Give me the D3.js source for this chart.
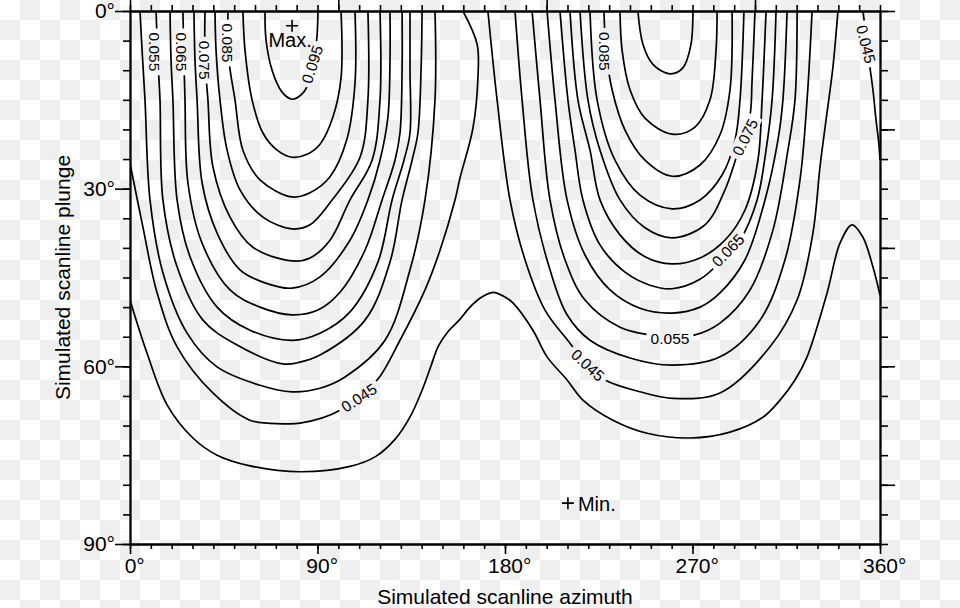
<!DOCTYPE html>
<html><head><meta charset="utf-8">
<script src="https://cdn.jsdelivr.net/npm/d3@7"></script>
<style>
body{margin:0;background:#fff;}
svg{display:block;font-family:"Liberation Sans",Arial,Helvetica,sans-serif;}
</style>
</head><body>
<svg id="chart" width="960" height="608"></svg>
<script>
// ---------- data (azimuth°, plunge°) ----------
const xTicksMajor = [0, 90, 180, 270, 360];
const xTicksTop = [0, 100, 200, 300];
const yTicksMajor = [0, 30, 60, 90];
const yTicksRight = [0, 20, 40, 60, 80];
const xLabelText = "Simulated scanline azimuth";
const yLabelText = "Simulated scanline plunge";

// left lobe
const L095 = [[64.8,0],[65.3,4.9],[68.2,10],[73,13.7],[77.8,14.9],[82.6,14],[85.9,12],[88.3,8.3],[89.8,4.1],[90.2,0]];
const L090 = [[54.2,0],[55.2,6.6],[58.6,15],[63.8,20.6],[70.6,23.5],[77.8,24.7],[85,24.2],[91.2,22.5],[97.4,17.9],[101.3,11.3],[101.3,0]];
const L085 = [[47,0],[47.5,8.3],[50.4,15],[54.2,23.5],[62.4,28.5],[77.8,31.4],[86.4,30.7],[96,28],[104,21.8],[108,12.2],[108,0]];
const L080 = [[40.8,0],[41.3,6.6],[43.2,15],[46.6,23.5],[52.8,30.2],[63.8,34.8],[77.8,36.8],[86.4,36.1],[97,31.9],[110.4,24.7],[114.2,15],[114.2,0]];
const L075 = [[36,0],[36,8.3],[37.4,15],[39.8,26.3],[48,34.8],[59,39.9],[77.8,42.2],[86.4,41.7],[96,38.7],[105.6,31.9],[116.2,25.2],[120,15],[120,0]];
const L070 = [[30.7,0],[31.2,8.3],[32.2,15],[34.6,29],[41.8,37.5],[52.8,43.7],[64.8,45.9],[77.8,46.8],[91.2,44.9],[105.6,38.7],[114.2,31.9],[120,25.2],[123.8,17.9],[124.8,8.3],[124.8,0]];
const L065 = [[25.4,0],[25.9,8.3],[26.4,15],[27.8,29],[34.6,39.2],[48,47.1],[62.4,50],[77.8,51.3],[90.2,50.5],[100.8,47.5],[112.8,40.4],[121,31.9],[127.2,25.2],[129.6,20.6],[130.6,10],[130.6,0]];
const L060 = [[19.2,0],[19.7,8.3],[20.6,15],[22.6,31.9],[28.8,41.5],[41.8,50],[57.6,53.9],[77.8,55.6],[91.2,54.4],[105.6,50.8],[119,42.4],[125.8,31.9],[131.5,25.2],[134.4,20.6],[134.4,10],[134.4,0]];
const L055 = [[12.5,0],[13.4,8.3],[14.4,15],[15.8,31.9],[22.6,43.2],[35,52.2],[51.4,56.4],[73.4,59.6],[81.6,59.3],[91.2,58.1],[112.8,52.2],[124.8,42.4],[130.6,31.9],[135.4,25.2],[138.2,20.6],[139.7,10],[140.2,0]];
const L050 = [[4.8,0],[5.8,6.6],[7.2,15],[9.6,31.9],[15.8,44.2],[27.4,54.4],[41.8,60.1],[62.4,63.2],[77.8,64.3],[91.2,63.7],[103.2,61.8],[122.4,55.6],[134.4,43.7],[141.6,31.9],[146.4,15],[146.4,0]];
const L045 = [[159.8,0],[166.6,5.6],[167,11.3],[164.6,19.8],[158.4,28.2],[156,31.9],[148.8,40.4],[141.6,47.1],[129.6,55.6],[118.6,62.3],[111.8,64],[100.8,67.4],[81.6,69.6],[73.4,69.7],[57.6,69.1],[39.8,64.5],[22.6,56.7],[13,47.6],[6.2,36.5],[0,25.7]];
const E045 = [[351.8,0],[353.3,4.1],[354.7,8.3],[356.6,13.3],[358.1,18.4],[359.5,22.6],[360,25.2]];
const L040 = [[0,48.8],[8.2,57.8],[17.8,66.5],[30.2,72.1],[41.8,75],[57.6,76.8],[81.6,77.8],[105.6,76.9],[118,75.2],[127.5,72.2],[134.5,68.5],[140,64.2],[144.2,60.2],[148,56.6],[152.5,54.2],[158,52.2],[163.2,50],[168,48.5],[174.2,47.5],[180,48.3],[183.8,49.3],[193.4,53.9],[200.2,58.4],[209.8,62.3],[217.4,65.7],[231.8,69.1],[248.2,71.3],[268.8,72.1],[288,71.1],[303.8,68.6],[312,65.7],[319.2,62.3],[325,58.4],[334.6,47.6],[340.8,39.2],[346.6,36.1],[351.8,38.2],[356.6,43.2],[360,48]];

// right lobe
const R095 = [[243.8,0],[246.2,5.6],[251,9],[259.2,10.6],[265.4,9.6],[269.3,5.6],[270.2,0]];
const R090 = [[235.2,0],[236.2,6.6],[240,13.3],[247.2,18.1],[260.2,20.8],[271.2,19.6],[278.4,15],[281.3,6.6],[281.8,0]];
const R085 = [[227.5,0],[228.5,6.6],[231.4,13.3],[237.6,20.1],[247.2,25.2],[260.2,27.9],[273.6,26],[283.2,20.9],[288,13.3],[289,0]];
const R080 = [[220.8,0],[224.2,15],[232.8,25.2],[244.8,31.1],[260.2,33.4],[273.6,31.9],[284.2,27.7],[290.4,21.8],[292.8,15],[294.7,0]];
const R075 = [[216,0],[219.8,15],[225.6,23.5],[235.2,31.9],[247.2,36.6],[260.2,38.3],[276,36.1],[285.6,30.2],[291.4,24.3],[294.2,21.3],[297.6,17.6],[298.6,11.7],[300,0]];
const R070 = [[211.2,0],[215,15],[220.8,23.5],[225.6,31.9],[235.2,37.8],[247.2,41.5],[260.2,42.7],[273.6,41.7],[285.6,38.7],[295.2,33.6],[301.4,25.2],[303.4,15],[305.3,0]];
const R065 = [[206.4,0],[210.2,15],[213.6,23.5],[217.4,31.9],[225.6,39.5],[237.6,44.1],[249.6,46.3],[260.2,46.9],[273.6,45.3],[283.2,42.4],[292.8,38.7],[301,31.9],[305.3,23.5],[308.2,15],[310.1,0]];
const R060 = [[200.2,0],[204,15],[209.8,31.9],[218.4,41.2],[230.4,47.1],[244.8,50.2],[260.2,51],[273.6,50],[283.2,47.6],[295.2,42],[304.8,31.9],[311,21.8],[313.4,15],[315.4,0]];
const R055 = [[193,0],[196.8,15],[201.6,31.9],[208.8,42],[218.4,48.8],[235.2,53.4],[249.6,54.7],[260.2,55],[271.2,54.7],[283.2,52.7],[297.6,47.1],[308.6,37],[315.8,23.5],[319.2,15],[320.2,0]];
const R050 = [[184.8,0],[188.2,15],[193.4,31.9],[201.6,43.7],[209.8,51.3],[220.8,55.6],[240,58.6],[260.2,59.8],[283.2,58.4],[302.4,52.2],[314.4,42],[321.6,28.5],[325,15],[327.4,0]];
const R045 = [[171.8,0],[176.2,15],[182.4,31.9],[189.6,42],[199.2,50.5],[211.2,56.1],[219.4,59.8],[228,62.3],[244.8,64.3],[260.2,65.4],[283.2,64.5],[307.2,56.7],[320.2,48.8],[327.8,37.5],[331.2,26.3],[334.1,18.4],[337.4,9.5],[339.8,0]];

const contourLines = [L095,L090,L085,L080,L075,L070,L065,L060,L055,L050,L045,E045,L040,
                      R095,R090,R085,R080,R075,R070,R065,R060,R055,R050,R045];

// contour labels
const labelTexts  = ["0.055","0.065","0.075","0.085","0.095","0.045","0.085","0.075","0.065","0.055","0.045","0.045"];
const labelAz     = [12, 25, 36, 47, 87.4, 109.9, 228, 295.2, 287, 259.2, 219.8, 353.3];
const labelPl     = [6.9, 6.9, 8.3, 5.4, 9, 65.3, 6.8, 21.3, 40.4, 55.2, 59.8, 5.6];
const labelAngle  = [90, 90, 90, 90, -72, -33, 90, -64, -46, 0, 43, 76];

const maxPoint = [77.8, 2.5];
const minPoint = [210.2, 83.1];

// ---------- drawing ----------
const W = 960, H = 608;
const svg = d3.select("#chart");
const x = d3.scaleLinear().domain([0, 360]).range([130, 880]);
const y = d3.scaleLinear().domain([0, 90]).range([11, 544]);

const defs = svg.append("defs");
const pat = defs.append("pattern").attr("id","checker").attr("width",40).attr("height",40)
  .attr("patternUnits","userSpaceOnUse");
pat.append("rect").attr("width",40).attr("height",40).attr("fill","#ffffff");
pat.append("rect").attr("x",20).attr("y",0).attr("width",20).attr("height",20).attr("fill","#efefef");
pat.append("rect").attr("x",0).attr("y",20).attr("width",20).attr("height",20).attr("fill","#efefef");
svg.append("rect").attr("width",W).attr("height",H).attr("fill","url(#checker)");

defs.append("clipPath").attr("id","plotclip").append("rect")
  .attr("x",x(0)).attr("y",y(0)).attr("width",x(360)-x(0)).attr("height",y(90)-y(0));

const mask = defs.append("mask").attr("id","lblmask").attr("maskUnits","userSpaceOnUse")
  .attr("x",0).attr("y",0).attr("width",W).attr("height",H);
mask.append("rect").attr("width",W).attr("height",H).attr("fill","#fff");

const lblG = svg.append("g").attr("font-size",15.5).attr("fill","#000");
labelTexts.forEach((t,i)=>{
  const tx = x(labelAz[i]), ty = y(labelPl[i]);
  const tr = `translate(${tx},${ty}) rotate(${labelAngle[i]})`;
  const el = lblG.append("text").attr("transform",tr).attr("text-anchor","middle")
    .attr("dy","0.36em").text(t);
  const w = el.node().getComputedTextLength();
  mask.append("rect").attr("transform",tr).attr("x",-w/2-4).attr("y",-8)
    .attr("width",w+8).attr("height",16).attr("fill","#000");
});

const line = d3.line().x(d=>x(d[0])).y(d=>y(d[1])).curve(d3.curveCatmullRom.alpha(0.5));
const cg = svg.insert("g", "g").attr("clip-path","url(#plotclip)");
const cg2 = cg.append("g").attr("mask","url(#lblmask)");
cg2.selectAll("path").data(contourLines).join("path")
  .attr("d", line).attr("fill","none").attr("stroke","#000").attr("stroke-width",1.7)
  .attr("stroke-linejoin","round");

// axes
function styleAxis(g){
  g.attr("font-size",21).attr("font-family",'"Liberation Sans",Arial,Helvetica,sans-serif');
  g.selectAll("path,line").attr("stroke","#000").attr("stroke-width",1.6);
  g.select(".domain").attr("stroke-width",1.8);
}
const minorX = d3.range(0, 361, 10);
const minorY = d3.range(0, 91, 5);

svg.append("g").attr("transform",`translate(0,${y(90)})`)
  .call(d3.axisBottom(x).tickValues(minorX).tickSize(5).tickSizeOuter(0).tickFormat(""))
  .call(styleAxis);
const bx = svg.append("g").attr("transform",`translate(0,${y(90)})`)
  .call(d3.axisBottom(x).tickValues(xTicksMajor).tickSize(10).tickSizeOuter(0).tickPadding(4).tickFormat(d=>d+"°"))
  .call(styleAxis);
bx.selectAll("text").attr("dx","0.2em").attr("fill","#000");

svg.append("g").attr("transform",`translate(0,${y(0)})`)
  .call(d3.axisTop(x).tickValues(minorX).tickSize(6).tickSizeOuter(0).tickFormat(""))
  .call(styleAxis);
svg.append("g").attr("transform",`translate(0,${y(0)})`)
  .call(d3.axisTop(x).tickValues(xTicksTop).tickSize(11).tickSizeOuter(0).tickFormat(""))
  .call(styleAxis);

svg.append("g").attr("transform",`translate(${x(0)},0)`)
  .call(d3.axisLeft(y).tickValues(minorY).tickSize(7).tickSizeOuter(0).tickFormat(""))
  .call(styleAxis);
const ly = svg.append("g").attr("transform",`translate(${x(0)},0)`)
  .call(d3.axisLeft(y).tickValues(yTicksMajor).tickSize(15).tickSizeOuter(0).tickPadding(0).tickFormat(d=>d+"°"))
  .call(styleAxis);
ly.selectAll("text").attr("fill","#000");

svg.append("g").attr("transform",`translate(${x(360)},0)`)
  .call(d3.axisRight(y).tickValues(minorY).tickSize(8).tickSizeOuter(0).tickFormat(""))
  .call(styleAxis);
svg.append("g").attr("transform",`translate(${x(360)},0)`)
  .call(d3.axisRight(y).tickValues(yTicksRight).tickSize(15).tickSizeOuter(0).tickFormat(""))
  .call(styleAxis);

// axis titles
svg.append("text").attr("x",(x(0)+x(360))/2).attr("y",604).attr("text-anchor","middle")
  .attr("font-size",21).text(xLabelText);
svg.append("text").attr("transform",`translate(70,${(y(0)+y(90))/2}) rotate(-90)`)
  .attr("text-anchor","middle").attr("font-size",21).text(yLabelText);

// max / min markers
function plus(cx, cy, r){
  svg.append("path").attr("d",`M${cx-r},${cy}H${cx+r}M${cx},${cy-r}V${cy+r}`)
    .attr("stroke","#000").attr("stroke-width",1.6);
}
plus(x(maxPoint[0]), y(maxPoint[1]), 6);
svg.append("text").attr("x",x(maxPoint[0])-2).attr("y",y(maxPoint[1])+21)
  .attr("text-anchor","middle").attr("font-size",20).text("Max.");
plus(x(minPoint[0]), y(minPoint[1]), 6);
svg.append("text").attr("x",x(minPoint[0])+10).attr("y",y(minPoint[1])+7.5)
  .attr("text-anchor","start").attr("font-size",20).text("Min.");
</script>
</body></html>
